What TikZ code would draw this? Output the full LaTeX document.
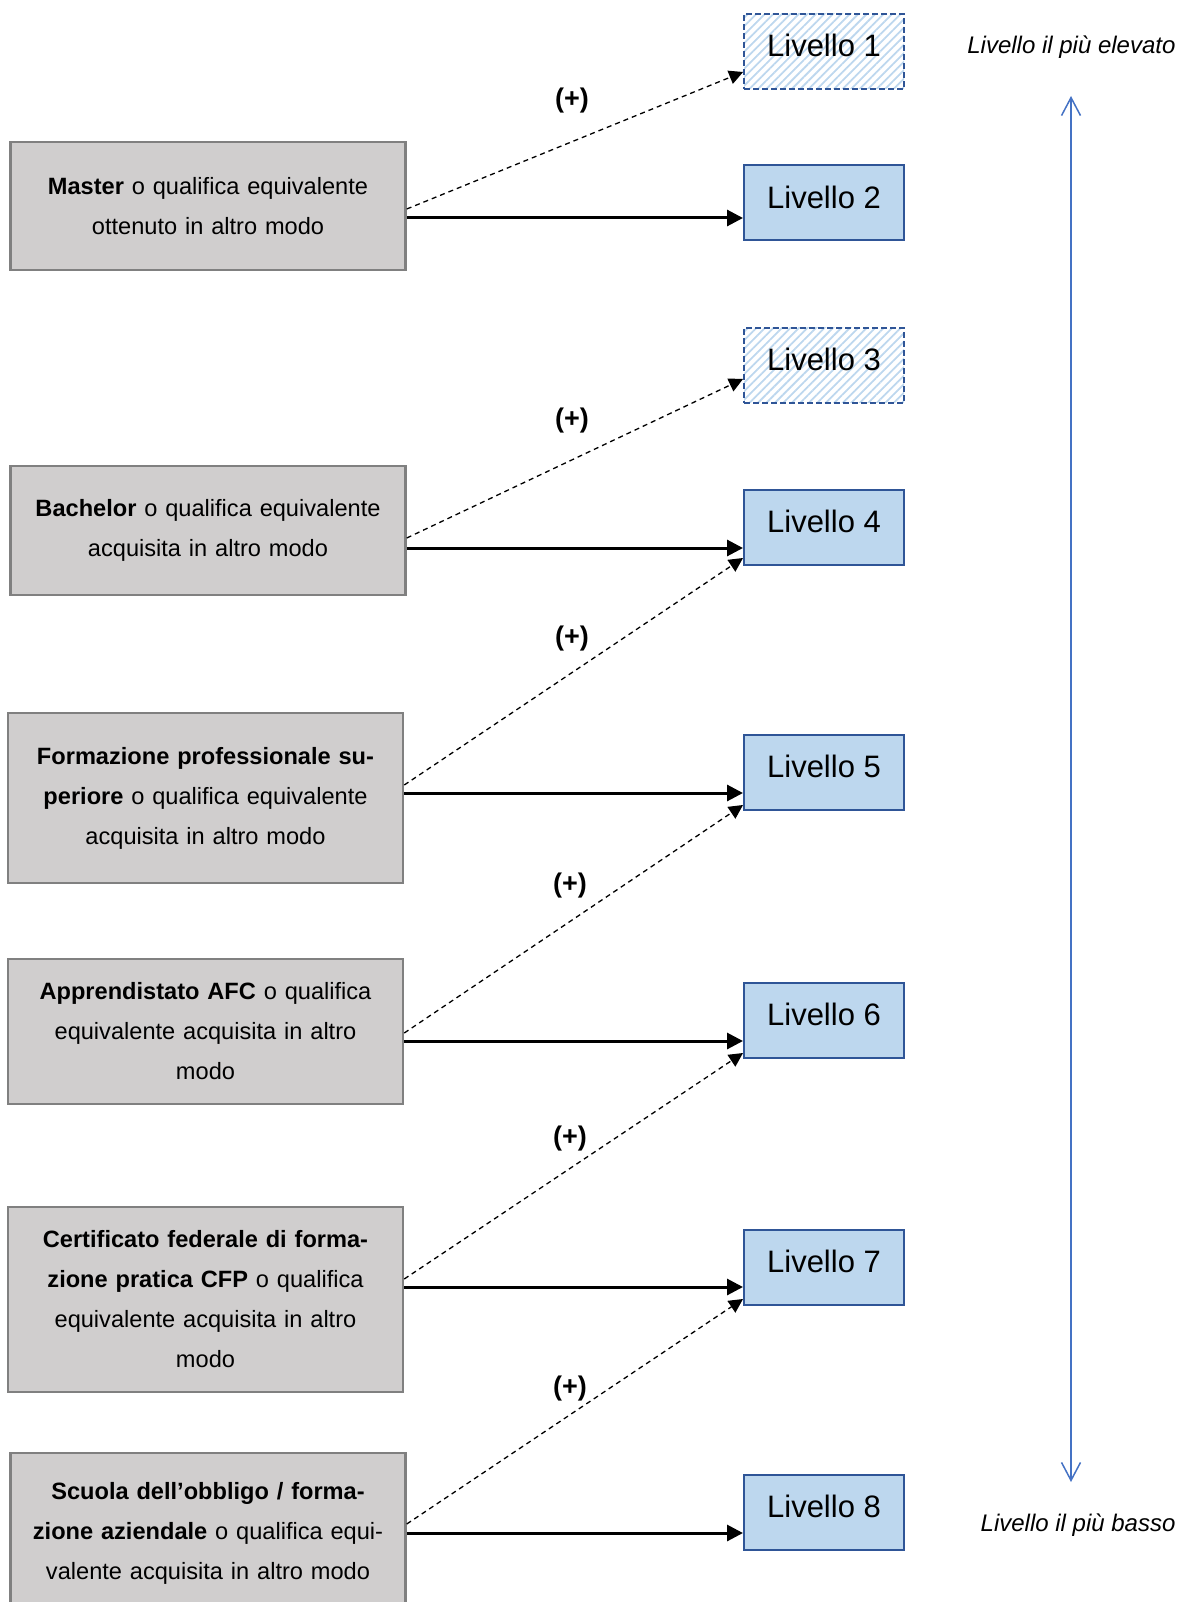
\documentclass[tikz,border=0pt]{standalone}
\usepackage{fontspec}
\setmainfont{Liberation Sans}
\usetikzlibrary{arrows.meta}
\usetikzlibrary{patterns.meta}

\definecolor{boxgray}{HTML}{D0CECE}
\definecolor{bordergray}{HTML}{808080}
\definecolor{livblue}{HTML}{BDD7EE}
\definecolor{livborder}{HTML}{2F5597}
\definecolor{scaleblue}{HTML}{4472C4}

\begin{document}
\begin{tikzpicture}[x=1pt, y=-1pt,
  titolo/.style={draw=bordergray, line width=2.5pt, fill=boxgray, minimum width=395pt,
    inner xsep=7pt, text width=381pt, align=center, font=\fontsize{23.6}{40}\selectfont},
  livello/.style={draw=livborder, line width=2pt, fill=livblue, minimum width=160pt,
    minimum height=75pt, text depth=12pt, font=\fontsize{31}{36}\selectfont},
  livellopiu/.style={livello, fill=none, dash pattern=on 6pt off 3pt,
    pattern={Lines[angle=45,distance=6pt,line width=1.8pt]}, pattern color=livblue},
  freccia/.style={line width=3pt, -{Triangle[length=16pt,width=16pt]}},
  freccetta/.style={line width=1.3pt, dash pattern=on 5pt off 4pt, -{Triangle[length=14pt,width=14pt]}},
  piu/.style={font=\fontsize{27}{30}\selectfont\bfseries},
  estremo/.style={anchor=east, font=\fontsize{24}{28}\selectfont\itshape},
  scala/.style={draw=scaleblue, line width=1.5pt,
    {Straight Barb[length=18pt,width=19pt]}-{Straight Barb[length=18pt,width=19pt]}}]

\useasboundingbox (0,0) rectangle (1181,1602);

% titoli di studio
\node[titolo, minimum height=128pt] (master) at (208,206)
  {\textbf{Master} o qualifica equivalente\\ottenuto in altro modo};
\node[titolo, minimum height=129pt] (bachelor) at (208,530.5)
  {\textbf{Bachelor} o qualifica equivalente\\acquisita in altro modo};
\node[titolo, minimum height=170pt] (formazione) at (205.5,798)
  {\textbf{Formazione professionale su-}\\\textbf{periore} o qualifica equivalente\\acquisita in altro modo};
\node[titolo, minimum height=145pt] (afc) at (205.5,1031.5)
  {\textbf{Apprendistato AFC} o qualifica\\equivalente acquisita in altro\\modo};
\node[titolo, minimum height=185pt] (cfp) at (205.5,1299.5)
  {\textbf{Certificato federale di forma-}\\\textbf{zione pratica CFP} o qualifica\\equivalente acquisita in altro\\modo};
\node[titolo, minimum height=160pt] (scuola) at (208,1533)
  {\textbf{Scuola dell’obbligo / forma-}\\\textbf{zione aziendale} o qualifica equi-\\valente acquisita in altro modo};

% livelli
\node[livellopiu] (liv1) at (824,51.5) {Livello 1};
\node[livello] (liv2) at (824,203) {Livello 2};
\node[livellopiu] (liv3) at (824,365) {Livello 3};
\node[livello] (liv4) at (824,527) {Livello 4};
\node[livello] (liv5) at (824,772.5) {Livello 5};
\node[livello] (liv6) at (824,1020.5) {Livello 6};
\node[livello] (liv7) at (824,1267) {Livello 7};
\node[livello] (liv8) at (824,1512.5) {Livello 8};

% frecce
\draw[freccia] (master.east |- 0,218) -- (liv2.west |- 0,218);
\draw[freccetta] (master.east |- 0,209) -- (liv1.west |- 0,72);
\draw[freccia] (bachelor.east |- 0,548) -- (liv4.west |- 0,548);
\draw[freccetta] (bachelor.east |- 0,538) -- (liv3.west |- 0,379);
\draw[freccia] (formazione.east |- 0,793) -- (liv5.west |- 0,793);
\draw[freccetta] (formazione.east |- 0,785) -- (liv4.west |- 0,558);
\draw[freccia] (afc.east |- 0,1041) -- (liv6.west |- 0,1041);
\draw[freccetta] (afc.east |- 0,1033) -- (liv5.west |- 0,805);
\draw[freccia] (cfp.east |- 0,1287) -- (liv7.west |- 0,1287);
\draw[freccetta] (cfp.east |- 0,1279) -- (liv6.west |- 0,1053);
\draw[freccia] (scuola.east |- 0,1533) -- (liv8.west |- 0,1533);
\draw[freccetta] (scuola.east |- 0,1524) -- (liv7.west |- 0,1299);

\node[piu] (p1) at (572,101) {(+)};
\node[piu] (p2) at (572,421) {(+)};
\node[piu] (p3) at (572,639) {(+)};
\node[piu] (p4) at (570,886) {(+)};
\node[piu] (p5) at (570,1139) {(+)};
\node[piu] (p6) at (570,1389) {(+)};

% scala dei livelli
\node[estremo] (alto) at (1179,47) {Livello il più elevato};
\node[estremo] (basso) at (1179,1525) {Livello il più basso};
\coordinate (cima) at (1071,96);
\coordinate (fondo) at (1071,1482);
\draw[scala] (cima) -- (fondo);

\end{tikzpicture}
\end{document}
